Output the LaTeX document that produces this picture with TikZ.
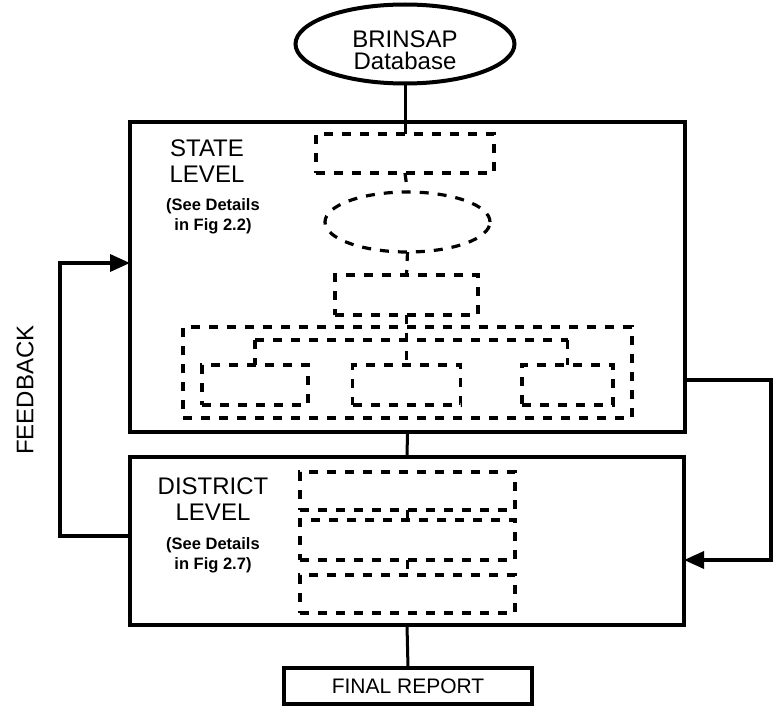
\documentclass[tikz,border=0pt]{standalone}
\usepackage{fontspec}
\setmainfont{Liberation Sans}
\usetikzlibrary{arrows.meta,shapes.geometric}

\begin{document}
\begin{tikzpicture}[x=1pt,y=-1pt,
  box/.style={draw,line width=4pt,inner sep=0pt,outer sep=0pt},
  dbox/.style={draw,line width=3.2pt,dash pattern=on 9pt off 9pt,inner sep=0pt,outer sep=0pt},
  link/.style={line width=3pt},
  dlink/.style={line width=3.2pt,dash pattern=on 9pt off 9pt},
  fb/.style={line width=3.5pt,-{Triangle[length=20pt,width=17pt]}},
  big/.style={font=\fontsize{24}{26}\selectfont,align=center,inner sep=0pt},
  small/.style={font=\bfseries\fontsize{16.5}{20}\selectfont,align=center,inner sep=0pt}]
\useasboundingbox (0,0) rectangle (773,706);
\node[box,ellipse,minimum width=219,minimum height=79,
  label={[big,font=\fontsize{24}{22}\selectfont,yshift=-6pt]center:BRINSAP\\Database}] (db) at (405,44) {};
\node[box,minimum width=555,minimum height=310] (state) at (407.5,277) {};
\node[box,minimum width=554,minimum height=168] (district) at (407,541) {};
\node[box,minimum width=248,minimum height=36,font=\fontsize{21}{22}\selectfont] (report) at (408,686) {FINAL REPORT};

\node[big] (sttitle) at (207,161) {STATE\\LEVEL};
\node[small] (stnote) at (213,216) {(See Details\\in Fig 2.2)};
\node[big] (dttitle) at (213,499) {DISTRICT\\LEVEL};
\node[small] (dtnote) at (213,555) {(See Details\\in Fig 2.7)};
\node[big,rotate=90] (fbtext) at (25,390) {FEEDBACK};

\node[dbox,minimum width=178,minimum height=39] (s1) at (405,153.5) {};
\node[dbox,ellipse,minimum width=165,minimum height=60] (s2) at (407.5,222) {};
\node[dbox,minimum width=143,minimum height=40] (s3) at (406.5,295) {};
\node[dbox,minimum width=449,minimum height=91] (s4) at (407.5,372.5) {};
\node[dbox,minimum width=106,minimum height=40] (s5a) at (255,385) {};
\node[dbox,minimum width=108,minimum height=40] (s5b) at (406.5,385) {};
\node[dbox,minimum width=91,minimum height=40] (s5c) at (567.5,385) {};
\coordinate (busL) at (255,340);
\coordinate (busR) at (567.5,340);

\node[dbox,minimum width=215,minimum height=38] (d1) at (407.5,491) {};
\node[dbox,minimum width=215,minimum height=40] (d2) at (407.5,540) {};
\node[dbox,minimum width=215,minimum height=38] (d3) at (407.5,594) {};

\draw[link] (db.south) -- (s1.north);
\draw[link] (state.south) -- (district.north);
\draw[link] (district.south) -- (report.north);

\draw[dlink] (s1.south) -- (s2.north);
\draw[dlink] (s2.south) -- (s3.north);
\draw[dlink] (s3.south) -- (s5b.north);
\draw[dlink] (busL) -- (busR);
\draw[dlink] (busL) -- (s5a.north);
\draw[dlink] (busR) -- (s5c.north);
\draw[dlink] (d1.south) -- (d2.north);
\draw[dlink] (d2.south) -- (d3.north);

\draw[fb] ([yshift=5pt]district.west) -- ++(-70,0) |- ([yshift=14pt]state.west);
\draw[fb] ([yshift=-103pt]state.east) -| (771,470) |- ([yshift=-19pt]district.east);
\end{tikzpicture}
\end{document}
